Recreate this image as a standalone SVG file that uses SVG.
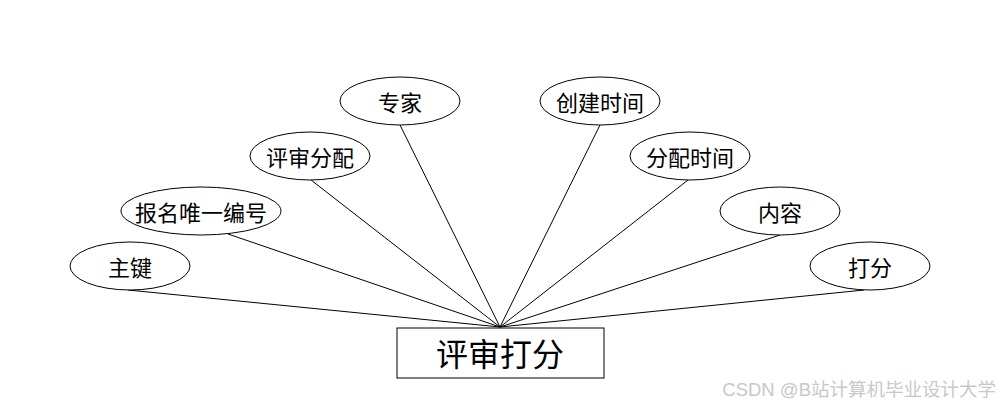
<svg xmlns="http://www.w3.org/2000/svg" width="1000" height="408" viewBox="0 0 1000 408">
<style>
.e{fill:#fff;stroke:#000;stroke-width:1}
.t{font-family:"Noto Sans CJK SC","Liberation Sans",sans-serif;font-size:22px;text-anchor:middle;dominant-baseline:central;fill:#000}
.c line{stroke:#000;stroke-width:1}
</style>
<rect width="1000" height="408" fill="#fff"/>
<g class="c" id="connectors">
<line x1="400" y1="125" x2="500" y2="327"/>
<line x1="311" y1="180" x2="500" y2="327"/>
<line x1="228" y1="234" x2="500" y2="327"/>
<line x1="128" y1="290" x2="500" y2="327"/>
<line x1="600" y1="125" x2="500" y2="327"/>
<line x1="688" y1="180" x2="500" y2="327"/>
<line x1="780" y1="235" x2="500" y2="327"/>
<line x1="864" y1="290" x2="500" y2="327"/>
</g>
<g id="n-main"><rect x="397" y="328" width="207" height="50" fill="#fff" stroke="#000"/><text class="t" x="500" y="352" style="font-size:32px">评审打分</text></g>
<g id="n-zhuanjia"><ellipse class="e" cx="400" cy="101" rx="60" ry="24"/><text class="t" x="400" y="101">专家</text></g>
<g id="n-pingshenfenpei"><ellipse class="e" cx="310" cy="156" rx="60" ry="24"/><text class="t" x="310" y="156">评审分配</text></g>
<g id="n-baoming"><ellipse class="e" cx="201" cy="211" rx="80" ry="24"/><text class="t" x="201" y="211">报名唯一编号</text></g>
<g id="n-zhujian"><ellipse class="e" cx="130" cy="266" rx="60" ry="24"/><text class="t" x="130" y="266">主键</text></g>
<g id="n-chuangjian"><ellipse class="e" cx="600" cy="101" rx="60" ry="24"/><text class="t" x="600" y="101">创建时间</text></g>
<g id="n-fenpeishijian"><ellipse class="e" cx="690" cy="156" rx="60" ry="24"/><text class="t" x="690" y="156">分配时间</text></g>
<g id="n-neirong"><ellipse class="e" cx="780" cy="211" rx="60" ry="24"/><text class="t" x="780" y="211">内容</text></g>
<g id="n-dafen"><ellipse class="e" cx="870" cy="266" rx="60" ry="24"/><text class="t" x="870" y="266">打分</text></g>
<text x="996" y="389" text-anchor="end" dominant-baseline="central" style="font-family:'Liberation Sans','Noto Sans CJK SC',sans-serif;font-size:18.5px;fill:#c8c8c8">CSDN @B站计算机毕业设计大学</text>
</svg>
